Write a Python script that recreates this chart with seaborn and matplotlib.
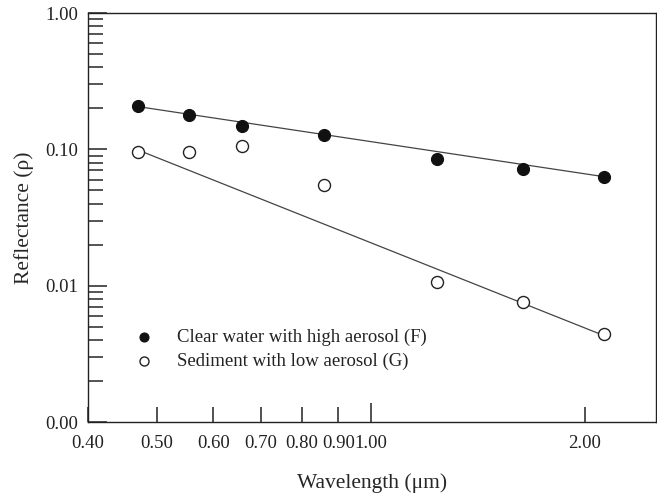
import numpy as np
import pandas as pd
import matplotlib
matplotlib.use("Agg")
import matplotlib.pyplot as plt
import seaborn as sns

# data
wavelength = [0.47, 0.555, 0.659, 0.859, 1.24, 1.64, 2.13]
refl_clear = [0.208, 0.179, 0.148, 0.127, 0.085, 0.072, 0.063]
refl_sediment = [0.096, 0.096, 0.106, 0.055, 0.0107, 0.0076, 0.0044]

# fitted lines (end points)
fit_x = [0.47, 2.13]
fit_clear = [0.206, 0.063]
fit_sediment = [0.099, 0.0043]

label_clear = "Clear water with high aerosol (F)"
label_sediment = "Sediment with low aerosol (G)"

x_ticks = [0.4, 0.5, 0.6, 0.7, 0.8, 0.9, 2.0]
x_tick_labels = ["0.40", "0.50", "0.60", "0.70", "0.80", "0.90", "2.00"]
y_ticks = [0.001, 0.01, 0.1, 1.0]
y_tick_labels = ["0.00", "0.01", "0.10", "1.00"]

sns.set_style("ticks")
plt.rcParams['font.family'] = ['Liberation Serif', 'DejaVu Serif']
plt.rcParams['text.color'] = '#222222'

fig = plt.figure(figsize=(6.57, 4.99), dpi=100)
ax = fig.add_axes([0.134, 0.1543, 0.8645, 0.8196])

df_fit = pd.DataFrame({"x": fit_x, "F": fit_clear, "G": fit_sediment})
sns.lineplot(data=df_fit, x="x", y="F", ax=ax, color="#444444", lw=0.9)
sns.lineplot(data=df_fit, x="x", y="G", ax=ax, color="#444444", lw=0.9)

df = pd.DataFrame({"wl": wavelength, "F": refl_clear, "G": refl_sediment})
sns.scatterplot(data=df, x="wl", y="F", ax=ax, s=75, color="#111111",
                edgecolor="#111111", linewidth=0.8, label=label_clear, zorder=3)
sns.scatterplot(data=df, x="wl", y="G", ax=ax, s=75, color="white",
                edgecolor="#222222", linewidth=1.0, label=label_sediment, zorder=3)

ax.set_xscale("log")
ax.set_yscale("log")
ax.set_xlim(0.4, 2.52)
ax.set_ylim(0.001, 1.0)

# x ticks: 1.00 is the long one
ax.set_xticks([1.0])
ax.set_xticklabels(["1.00"])
ax.set_xticks(x_ticks, minor=True)
ax.set_xticklabels(x_tick_labels, minor=True)
ax.tick_params(axis="x", which="major", direction="in", length=14, width=1.1,
               labelsize=13.5, pad=9, colors="#222222")
ax.tick_params(axis="x", which="minor", direction="in", length=10.5, width=1.1,
               labelsize=13.5, pad=9, colors="#222222")

ax.set_yticks(y_ticks)
ax.set_yticklabels(y_tick_labels)
ax.set_yticks([m * d for d in [0.001, 0.01, 0.1] for m in range(2, 10)], minor=True)
ax.set_yticklabels([], minor=True)
ax.tick_params(axis="y", which="major", direction="in", length=13.5, width=1.1,
               labelsize=13.5, pad=7, colors="#222222")
ax.tick_params(axis="y", which="minor", direction="in", length=10.5, width=1.1)

for sp in ax.spines.values():
    sp.set_linewidth(1.0)
    sp.set_color("#222222")

ax.set_xlabel("Wavelength (μm)", fontsize=15.5, labelpad=16)
ax.set_ylabel("Reflectance (ρ)", fontsize=15.5, labelpad=8)

ax.legend(loc="lower left", bbox_to_anchor=(0.035, 0.085), frameon=False,
          fontsize=13.5, handletextpad=0.8, labelspacing=0.38, markerscale=0.75)

plt.savefig("out.png", dpi=100)
plt.close()
